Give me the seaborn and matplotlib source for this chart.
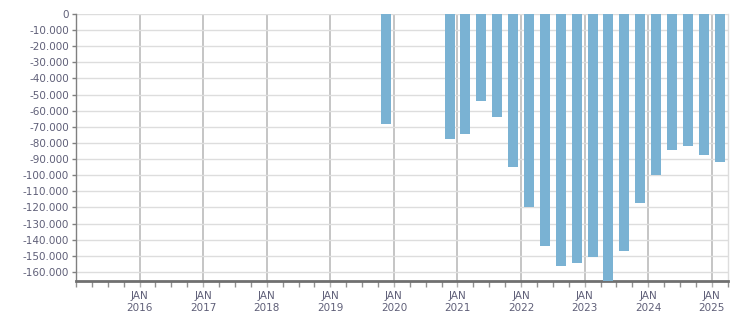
import matplotlib
matplotlib.use("Agg")
import matplotlib.pyplot as plt
import matplotlib.ticker as mticker
import seaborn as sns
import pandas as pd

# Data
years    = [2019, 2020, 2021, 2021, 2021, 2021, 2022, 2022, 2022, 2022,
            2023, 2023, 2023, 2023, 2024, 2024, 2024, 2024, 2025]
quarters = [4, 4, 1, 2, 3, 4, 1, 2, 3, 4, 1, 2, 3, 4, 1, 2, 3, 4, 1]
values   = [-68000, -77300, -74200, -54000, -63700, -94700, -119700, -143900,
            -156300, -154400, -150700, -167000, -147000, -117200, -99800,
            -84200, -81700, -87300, -91800]
tick_years = list(range(2016, 2026))

df = pd.DataFrame({"year": years, "quarter": quarters, "value": values})
df["t"] = df["year"] + (df["quarter"] - 0.5) / 4.0

sns.set_style("white")
plt.rcParams["font.family"] = ["DejaVu Sans"]

W, H = 751, 313
fig = plt.figure(figsize=(W / 100, H / 100), dpi=100)
ax = fig.add_axes([76 / W, 1 - 281 / H, (728 - 76) / W, (281 - 14) / H])

sns.barplot(data=df, x="t", y="value", native_scale=True, width=0.63,
            color="#7AB2D3", saturation=1, ax=ax, zorder=3, linewidth=0)

ax.set_xlim(2015.0, 2025.255)
ax.set_ylim(-165600, 0)
ax.set_xlabel("")
ax.set_ylabel("")

# y axis
ax.yaxis.set_major_locator(mticker.MultipleLocator(10000))
ax.yaxis.set_major_formatter(mticker.FuncFormatter(
    lambda v, p: "0" if abs(v) < 1 else f"{int(round(v)):,}".replace(",", ".")))
# x axis
ax.set_xticks(tick_years)
ax.set_xticklabels([f"JAN\n{y}" for y in tick_years])
ax.xaxis.set_minor_locator(mticker.MultipleLocator(0.25))

lab_col = "#5f5f78"
ax.tick_params(axis="y", which="major", length=3, width=1, color="#808080",
               labelsize=7.5, labelcolor=lab_col, pad=2, left=True)
ax.tick_params(axis="x", which="major", length=4, width=1, color="#b0b0b0",
               labelsize=7.5, labelcolor=lab_col, pad=3, bottom=True)
ax.tick_params(axis="x", which="minor", length=4, width=1, color="#909090",
               bottom=True)
for lbl in ax.get_xticklabels():
    lbl.set_linespacing(1.25)

ax.grid(axis="y", color="#dddddd", linewidth=1, zorder=0)
ax.grid(axis="x", which="major", color="#bbbbbb", linewidth=1.2, zorder=1)
ax.set_axisbelow(True)

ax.spines["top"].set_visible(False)
ax.spines["right"].set_color("#dddddd")
ax.spines["right"].set_linewidth(1)
ax.spines["left"].set_color("#808080")
ax.spines["left"].set_linewidth(1)
ax.spines["bottom"].set_color("#707070")
ax.spines["bottom"].set_linewidth(2)

fig.savefig("out.png", dpi=100)
